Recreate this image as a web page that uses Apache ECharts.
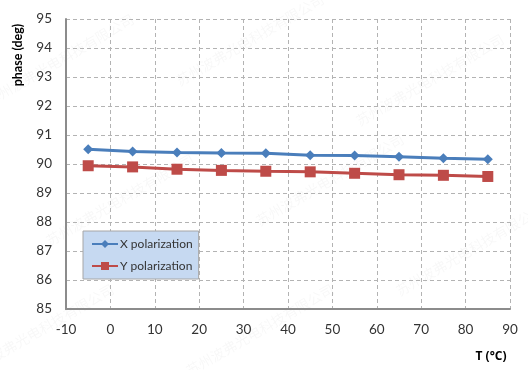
<!DOCTYPE html>
<html><head><meta charset="utf-8">
<script src="https://cdn.jsdelivr.net/npm/echarts@6/dist/echarts.min.js"></script>
<style>html,body{margin:0;padding:0;background:#fff}#c{width:528px;height:370px}</style>
</head><body><div id="c"></div>
<script>
const temps = [-5, 5, 15, 25, 35, 45, 55, 65, 75, 85];
const xPol = [90.51, 90.43, 90.40, 90.38, 90.37, 90.30, 90.29, 90.25, 90.20, 90.16];
const yPol = [89.94, 89.90, 89.82, 89.78, 89.75, 89.73, 89.68, 89.63, 89.61, 89.57];
const seriesNames = ['X polarization', 'Y polarization'];
const yAxisTitle = 'phase (deg)';
const xAxisTitle = 'T (°C)';
const watermark = '苏州波弗光电科技有限公司';

const chart = echarts.init(document.getElementById('c'), null, {renderer: 'canvas'});
const font = 'Lato, Open Sans, sans-serif';
const wm = [];
const wmPos = [[60,60],[250,40],[430,80],[120,200],[330,180],[40,330],[260,330],[470,250]];
wmPos.forEach(p => wm.push({type:'text', x:p[0], y:p[1], rotation: Math.PI/6, silent:true, z:0,
  style:{text: watermark, fill:'rgba(0,0,0,0.03)', font:'14px "Noto Sans CJK SC"', align:'center', verticalAlign:'middle'}}));

chart.setOption({
  animation: false,
  grid: {left: 66, right: 18, top: 19, bottom: 61},
  xAxis: {
    type: 'value', min: -10, max: 90, interval: 10,
    axisLine: {show: true, onZero: false, lineStyle: {color: '#8c8c8c', width: 2}},
    axisTick: {show: false},
    axisLabel: {color: '#333', fontSize: 13.5, fontFamily: font, margin: 14},
    splitLine: {show: true, lineStyle: {color: '#b3b3b3', type: [4, 3], width: 1}}
  },
  yAxis: {
    type: 'value', min: 85, max: 95, interval: 1,
    axisLine: {show: true, onZero: false, lineStyle: {color: '#8c8c8c', width: 2}},
    axisTick: {show: false},
    axisLabel: {color: '#333', fontSize: 13.5, fontFamily: font, margin: 14},
    splitLine: {show: true, lineStyle: {color: '#b3b3b3', type: [4, 3], width: 1}}
  },
  legend: {
    orient: 'vertical', left: 83, top: 231,
    backgroundColor: '#c6d9f1', borderColor: '#a6a6a6', borderWidth: 1,
    padding: [7, 6, 7, 8], itemGap: 10, itemWidth: 26, itemHeight: 10,
    textStyle: {color: '#333', fontSize: 12, fontFamily: font, padding: [0, 0, 0, -3]},
    data: seriesNames
  },
  series: [
    {name: seriesNames[0], type: 'line', data: temps.map((t, i) => [t, xPol[i]]),
     symbol: 'diamond', symbolSize: 10, color: '#4a7ebb',
     lineStyle: {width: 3, color: '#4a7ebb'}, itemStyle: {color: '#4a7ebb'}, z: 3},
    {name: seriesNames[1], type: 'line', data: temps.map((t, i) => [t, yPol[i]]),
     symbol: 'rect', symbolSize: 11, color: '#be4b48',
     lineStyle: {width: 3, color: '#be4b48'}, itemStyle: {color: '#be4b48'}, z: 3}
  ],
  graphic: wm.concat([
    {type: 'text', x: 18, y: 55, rotation: Math.PI / 2,
     style: {text: yAxisTitle, fill: '#000', font: 'bold 12.5px ' + font, align: 'center', verticalAlign: 'middle'}},
    {type: 'text', x: 491, y: 357,
     style: {text: xAxisTitle, fill: '#000', font: 'bold 12px "Open Sans", sans-serif', align: 'center', verticalAlign: 'middle'}}
  ])
});
</script></body></html>
